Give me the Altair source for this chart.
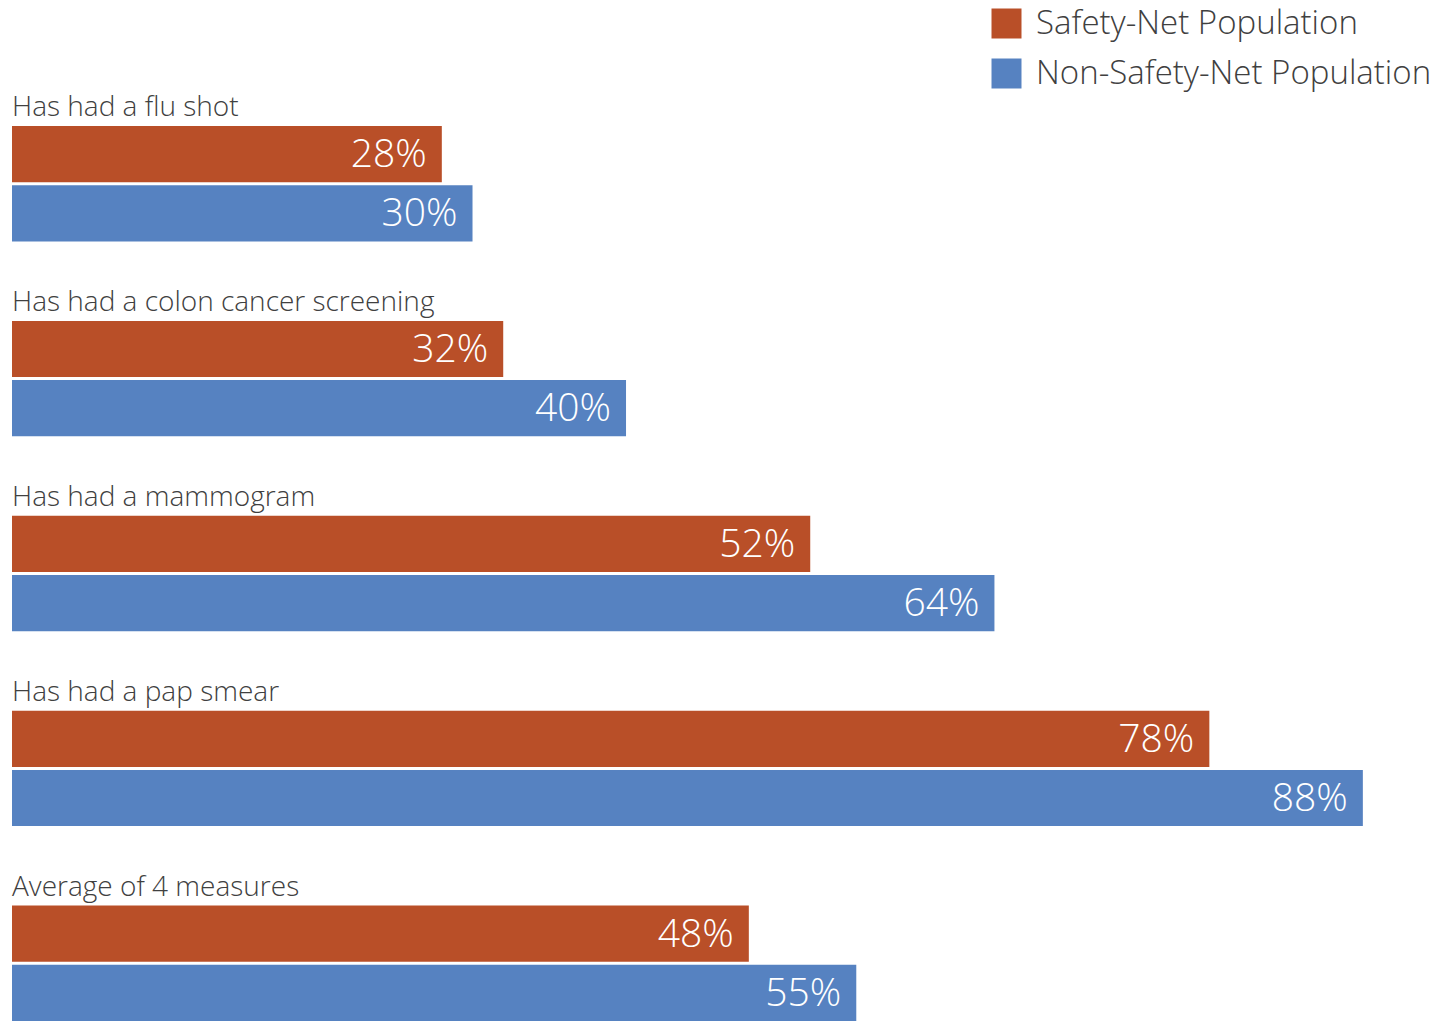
import altair as alt
import pandas as pd

categories = [
    "Has had a flu shot",
    "Has had a colon cancer screening",
    "Has had a mammogram",
    "Has had a pap smear",
    "Average of 4 measures",
]
series = ["Safety-Net Population", "Non-Safety-Net Population"]
safety = [28, 32, 52, 78, 48]
non_safety = [30, 40, 64, 88, 55]

FONT = "Open Sans"
TEXT_COLOR = "#404040"
COLORS = ["#B94F28", "#5682C1"]

rows = []
for c, s, n in zip(categories, safety, non_safety):
    rows.append({"category": c, "series": series[0], "value": s})
    rows.append({"category": c, "series": series[1], "value": n})
df = pd.DataFrame(rows)
labels_df = pd.DataFrame({"category": categories})

y_scale = alt.Scale(domain=categories, paddingInner=0.408, paddingOuter=0)
y = alt.Y("category:N", sort=categories, axis=None, scale=y_scale)
yoff = alt.YOffset("series:N", sort=series,
                   scale=alt.Scale(domain=series, paddingInner=0.05, paddingOuter=0))
x = alt.X("value:Q", axis=None, scale=alt.Scale(domain=[0, 92.7], nice=False, zero=True))
color = alt.Color(
    "series:N",
    scale=alt.Scale(domain=series, range=COLORS),
    legend=alt.Legend(
        orient="none", legendX=978, legendY=-119, title=None,
        symbolType="square", symbolSize=900, symbolStrokeWidth=0,
        labelFontSize=33, labelColor=TEXT_COLOR, labelFont=FONT,
        labelFontWeight=300, rowPadding=16, labelOffset=13, labelLimit=600,
    ),
)

bars = alt.Chart(df).mark_bar().encode(x=x, y=y, yOffset=yoff, color=color)

values = alt.Chart(df).transform_calculate(
    lbl="datum.value + '%'"
).mark_text(
    align="right", baseline="middle", dx=-15, dy=1, fontSize=39, color="white",
    font=FONT, fontWeight=300,
).encode(x=x, y=y, yOffset=yoff, text="lbl:N")

cats = alt.Chart(labels_df).mark_text(
    align="left", baseline="alphabetic", dy=-10, fontSize=28, color=TEXT_COLOR,
    font=FONT, fontWeight=300,
).encode(
    x=alt.value(0),
    y=alt.Y("category:N", sort=categories, bandPosition=0, axis=None, scale=y_scale),
    text="category:N",
)

chart = alt.layer(bars, values, cats).properties(
    width=1423,
    height=895,
    autosize=alt.AutoSizeParams(type="none"),
    padding={"left": 12, "top": 126, "right": 0, "bottom": 0},
    background="white",
).configure_view(stroke=None)

chart.save("out.html", embed_options={"renderer": "svg", "actions": False})
